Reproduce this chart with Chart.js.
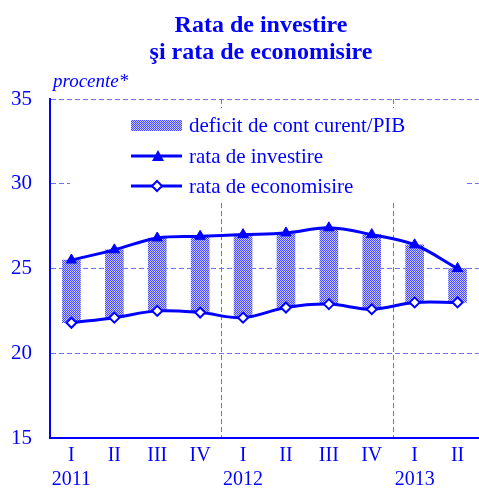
<!DOCTYPE html>
<html>
<head>
<meta charset="utf-8">
<script src="https://cdn.jsdelivr.net/npm/chart.js"></script>
<style>
  html, body { margin: 0; padding: 0; background: #fff; }
  #wrap { width: 479px; height: 489px; }
</style>
</head>
<body>
<div id="wrap"><canvas id="c" width="479" height="489"></canvas></div>
<script>
const quarters = ['I', 'II', 'III', 'IV', 'I', 'II', 'III', 'IV', 'I', 'II'];
const years = ['2011', '', '', '', '2012', '', '', '', '2013', ''];
const investire = [25.5, 26.1, 26.8, 26.9, 27.0, 27.1, 27.4, 27.0, 26.4, 25.0];
const economisire = [21.8, 22.1, 22.5, 22.4, 22.1, 22.7, 22.9, 22.6, 23.0, 23.0];
const yTicks = [15, 20, 25, 30, 35];

const BLUE = '#0000ff';
const GRID = '#6e6eff';
const serif = '"Liberation Serif", "Times New Roman", serif';

// checkered fill used for the current-account deficit bars
function checker() {
  const p = document.createElement('canvas');
  p.width = 2; p.height = 2;
  const g = p.getContext('2d');
  g.fillStyle = '#c8c8ff'; g.fillRect(0, 0, 2, 2);
  g.fillStyle = '#4848ff'; g.fillRect(0, 0, 1, 1); g.fillRect(1, 1, 1, 1);
  return g.createPattern(p, 'repeat');
}
const pat = checker();

const deficit = economisire.map((v, i) => [v, investire[i]]);

const titlePlugin = {
  id: 'texts',
  afterDraw(chart) {
    const ctx = chart.ctx;
    ctx.save();
    ctx.fillStyle = BLUE;
    ctx.textAlign = 'center';
    ctx.textBaseline = 'alphabetic';
    ctx.font = 'bold 24px ' + serif;
    ctx.fillText('Rata de investire', 261, 32);
    ctx.fillText('şi rata de economisire', 261, 59);
    ctx.textAlign = 'left';
    ctx.font = 'italic 19px ' + serif;
    ctx.fillText('procente*', 53, 87);

    // legend box inside the plot
    ctx.fillStyle = '#fff';
    ctx.fillRect(70, 108, 395, 93);
    const x0 = 131, x1 = 182;
    ctx.fillStyle = pat;
    ctx.fillRect(x0, 120, x1 - x0, 11);
    ctx.strokeStyle = BLUE;
    ctx.lineWidth = 3;
    ctx.beginPath(); ctx.moveTo(x0, 156); ctx.lineTo(x1, 156); ctx.stroke();
    ctx.beginPath(); ctx.moveTo(x0, 186); ctx.lineTo(x1, 186); ctx.stroke();
    ctx.fillStyle = BLUE;
    ctx.beginPath(); ctx.moveTo(158, 150); ctx.lineTo(164, 161); ctx.lineTo(152, 161); ctx.closePath(); ctx.fill();
    ctx.fillStyle = '#fff'; ctx.lineWidth = 2;
    ctx.beginPath(); ctx.moveTo(157, 181); ctx.lineTo(162, 186); ctx.lineTo(157, 191); ctx.lineTo(152, 186); ctx.closePath(); ctx.fill(); ctx.stroke();
    ctx.fillStyle = BLUE;
    ctx.font = '21px ' + serif;
    ctx.fillText('deficit de cont curent/PIB', 189, 132);
    ctx.fillText('rata de investire', 189, 163);
    ctx.fillText('rata de economisire', 189, 193);
    ctx.restore();
  }
};

new Chart(document.getElementById('c'), {
  data: {
    labels: quarters.map((q, i) => [q, years[i]]),
    datasets: [
      {
        type: 'line', label: 'rata de investire', data: investire, order: 1,
        borderColor: BLUE, borderWidth: 3, tension: 0.35,
        pointStyle: 'triangle', pointRadius: 6, pointBackgroundColor: BLUE, pointBorderColor: BLUE, pointBorderWidth: 1
      },
      {
        type: 'line', label: 'rata de economisire', data: economisire, order: 2,
        borderColor: BLUE, borderWidth: 3, tension: 0.35,
        pointStyle: 'rectRot', pointRadius: 5, pointBackgroundColor: '#fff', pointBorderColor: BLUE, pointBorderWidth: 2
      },
      {
        type: 'bar', label: 'deficit de cont curent/PIB', data: deficit, order: 3,
        backgroundColor: pat, borderWidth: 0, barThickness: 18
      }
    ]
  },
  options: {
    responsive: false,
    animation: false,
    layout: { autoPadding: false, padding: { top: 99, right: 0, left: 0, bottom: 0 } },
    plugins: { legend: { display: false }, title: { display: false }, tooltip: { enabled: false } },
    scales: {
      x: {
        offset: true,
        grid: {
          offset: true, drawTicks: false, lineWidth: 1,
          color: c => (c.index === 4 || c.index === 8) ? GRID : 'rgba(0,0,0,0)'
        },
        border: { color: BLUE, width: 2, dash: [5, 3] },
        ticks: { color: BLUE, font: { family: serif, size: 20, lineHeight: 1.2 }, padding: 6, maxRotation: 0, autoSkip: false },
        afterFit: s => { s.height = 51; }
      },
      y: {
        min: 15, max: 35,
        afterBuildTicks: s => { s.ticks = yTicks.map(v => ({ value: v })); },
        grid: { drawTicks: false, color: c => c.index === 0 ? 'rgba(0,0,0,0)' : GRID, lineWidth: 1 },
        border: { color: BLUE, width: 2, dash: [5, 3] },
        ticks: { color: BLUE, font: { family: serif, size: 21 }, padding: 18 },
        afterFit: s => { s.width = 50; }
      }
    }
  },
  plugins: [titlePlugin]
});
</script>
</body>
</html>
